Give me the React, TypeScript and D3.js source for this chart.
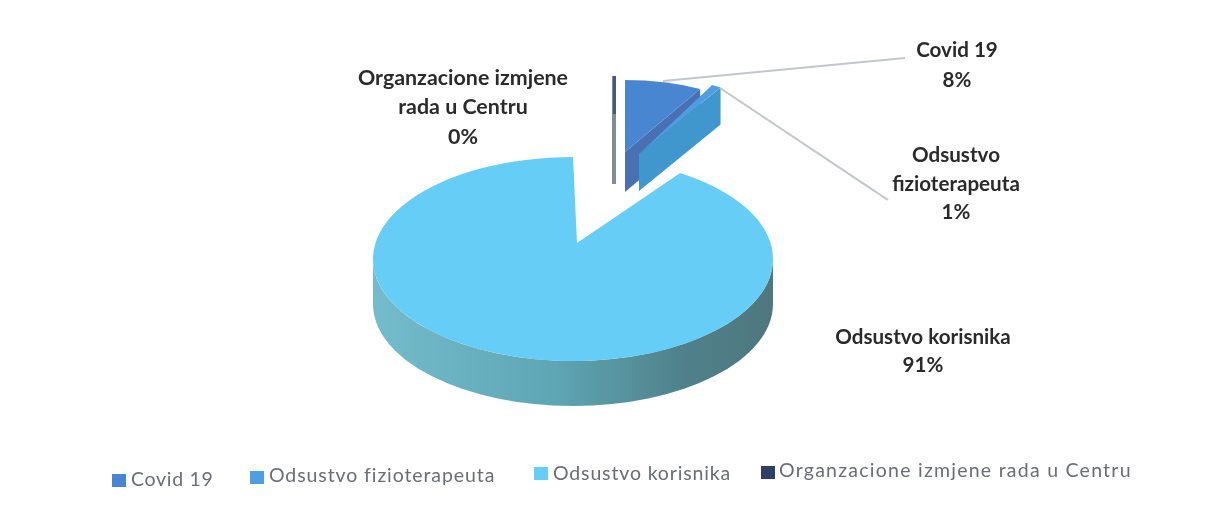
import React from "react";
import * as d3 from "d3";

const categories = ["Covid 19", "Odsustvo fizioterapeuta", "Odsustvo korisnika", "Organzacione izmjene rada u Centru"];
const values = [8, 1, 91, 0];
const topColors = ["#4a86d2", "#4d9fe2", "#66cdf6", "#46587f"];
const sideColors = ["#4a70b2", "#3f97cd", "#5aa5b5", "#5a6478"];

const pieFn = d3.pie<number>().sort(null).value((d) => d);
const arcs = pieFn(values);

type Geo = { ax: number; ay: number; cx: number; cy: number; rx: number; ry: number };
const mainGeo: Geo = { ax: 577, ay: 243, cx: 573, cy: 259, rx: 200, ry: 102 };
const covidGeo: Geo = { ax: 625, ay: 152, cx: 625, cy: 152, rx: 156, ry: 72 };
const fizioGeo: Geo = { ax: 639, ay: 154, cx: 637, cy: 155, rx: 156, ry: 80 };
const DEPTH = 45;
const SLICE_DEPTH = 37;

function pt(g: Geo, a: number, dy = 0): [number, number] {
  const [x, y] = d3.pointRadial(a, 1);
  return [g.cx + x * g.rx, g.cy + y * g.ry + dy];
}

function sector(g: Geo, a0: number, a1: number) {
  const [x0, y0] = pt(g, a0);
  const [x1, y1] = pt(g, a1);
  const large = a1 - a0 > Math.PI ? 1 : 0;
  return `M${g.ax},${g.ay}L${x0},${y0}A${g.rx},${g.ry} 0 ${large} 1 ${x1},${y1}Z`;
}

function rim(g: Geo, a0: number, a1: number, d: number) {
  const [x0, y0] = pt(g, a0);
  const [x1, y1] = pt(g, a1);
  return `M${x0},${y0}A${g.rx},${g.ry} 0 0 1 ${x1},${y1}L${x1},${y1 + d}A${g.rx},${g.ry} 0 0 0 ${x0},${y0 + d}Z`;
}

function cutFace(g: Geo, a: number, d: number) {
  const [x, y] = pt(g, a);
  return `M${x},${y}L${g.ax},${g.ay}L${g.ax},${g.ay + d}L${x},${y + d}Z`;
}

const labelFont = "Lato, 'Open Sans', sans-serif";

const dataLabels = [
  { x: 463, size: 21.4, lines: ["Organzacione izmjene", "rada u Centru", "0%"], y: [85, 114, 144] },
  { x: 957, size: 20.6, lines: ["Covid 19", "8%"], y: [57, 87] },
  { x: 956, size: 20.6, lines: ["Odsustvo", "fizioterapeuta", "1%"], y: [162, 191, 219] },
  { x: 923, size: 20.6, lines: ["Odsustvo korisnika", "91%"], y: [344, 372] },
];

const legendX = [112, 250, 534, 761];
const legendTextX = [131, 269, 553, 779];
const legendBoxBottom = [487, 484, 480, 479];
const legendBaseline = [486, 482, 480, 477];
const legendSpacing = [0.7, 0.9, 0.85, 1.25];
const leaders = [
  [[663, 81], [905, 58]],
  [[720, 88], [888, 200]],
];

export default function App() {
  const [covid, fizio, main] = arcs;
  const line = d3.line();
  return (
    <svg width={1208} height={509} style={{ position: "absolute", left: 0, top: 0, background: "#fff" }}>
      <defs>
        <linearGradient id="rimGrad" x1="0" x2="1" y1="0" y2="0">
          <stop offset="0" stopColor="#74bccb" />
          <stop offset="0.45" stopColor="#5ea6b4" />
          <stop offset="0.78" stopColor="#4f818a" />
          <stop offset="1" stopColor="#50777f" />
        </linearGradient>
        <filter id="scan" x="-5%" y="-5%" width="110%" height="110%">
          <feGaussianBlur stdDeviation="0.7" />
        </filter>
      </defs>
      <g filter="url(#scan)">
        <path d={rim(mainGeo, Math.PI / 2, (3 * Math.PI) / 2, DEPTH)} fill="url(#rimGrad)" />
        <path d={sector(mainGeo, main.startAngle, main.endAngle)} fill={topColors[2]} />

        <rect x={612} y={76} width={4} height={108} fill={sideColors[3]} opacity={0.75} />
        <rect x={613} y={76} width={3} height={38} fill={topColors[3]} />

        <path d={cutFace(covidGeo, covid.endAngle, SLICE_DEPTH + 3)} fill={sideColors[0]} />
        <path d={sector(covidGeo, covid.startAngle, covid.endAngle)} fill={topColors[0]} />

        <path d={cutFace(fizioGeo, fizio.endAngle, SLICE_DEPTH)} fill={sideColors[1]} />
        <path d={sector(fizioGeo, fizio.startAngle, fizio.endAngle)} fill={topColors[1]} />

        {leaders.map((l, i) => (
          <path key={i} d={line(l as [number, number][]) ?? ""} stroke="#c2c6ca" strokeWidth={2} fill="none" />
        ))}

        {dataLabels.map((d) =>
          d.lines.map((t, i) => (
            <text key={t} x={d.x} y={d.y[i]} textAnchor="middle" fontFamily={labelFont} fontWeight={700} fontSize={d.size} fill="#2b2b2b">
              {t}
            </text>
          ))
        )}

        {categories.map((c, i) => (
          <g key={c}>
            <rect x={legendX[i]} y={legendBoxBottom[i] - 13} width={14} height={13} fill={i === 3 ? "#2f4068" : topColors[i]} />
            <text x={legendTextX[i]} y={legendBaseline[i]} fontFamily={labelFont} fontSize={19.5} letterSpacing={legendSpacing[i]} fill="#6a6e72">
              {c}
            </text>
          </g>
        ))}
      </g>
    </svg>
  );
}
